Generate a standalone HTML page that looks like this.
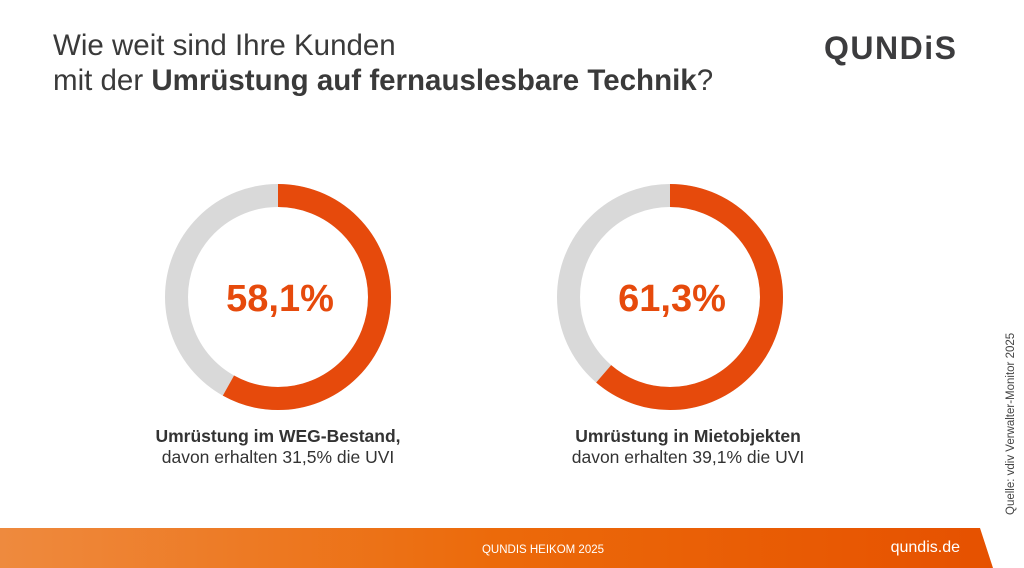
<!DOCTYPE html>
<html><head><meta charset="utf-8"><style>
body{margin:0;width:1024px;height:568px;overflow:hidden;background:#fff;font-family:"Liberation Sans",sans-serif;position:relative}
.t{position:absolute;left:53px;font-size:29.5px;color:#3a3a3a;line-height:34px}
.lbl{position:absolute;text-align:center;font-size:17.5px;color:#333;line-height:21px}
</style></head><body>
<div class="t" style="top:29px">Wie weit sind Ihre Kunden</div>
<div class="t" style="top:64px">mit der <b>Umrüstung auf fernauslesbare Technik</b>?</div>
<div style="position:absolute;left:824px;top:30px;font-size:32px;font-weight:bold;color:#3c3c3e;letter-spacing:1.5px">QUNDiS</div>
<svg width="1024" height="568" style="position:absolute;left:0;top:0">
<defs><linearGradient id="g" x1="0" x2="1"><stop offset="0" stop-color="#ee8a3e"/><stop offset="0.5" stop-color="#ec6a0a"/><stop offset="1" stop-color="#e65100"/></linearGradient></defs>
<circle cx="278" cy="297" r="101.5" fill="none" stroke="#d9d9d9" stroke-width="23"/>
<circle cx="278" cy="297" r="101.5" fill="none" stroke="#e64a0c" stroke-width="23" stroke-dasharray="370.5 1000" transform="rotate(-90 278 297)"/>
<circle cx="670" cy="297" r="101.5" fill="none" stroke="#d9d9d9" stroke-width="23"/>
<circle cx="670" cy="297" r="101.5" fill="none" stroke="#e64a0c" stroke-width="23" stroke-dasharray="391 1000" transform="rotate(-90 670 297)"/>
<text x="280" y="311" text-anchor="middle" font-size="38" font-weight="bold" fill="#e64a0c" font-family="Liberation Sans">58,1%</text>
<text x="672" y="311" text-anchor="middle" font-size="38" font-weight="bold" fill="#e64a0c" font-family="Liberation Sans">61,3%</text>
<polygon points="0,528 980,528 993,568 0,568" fill="url(#g)"/>
<text x="543" y="553" text-anchor="middle" font-size="11.5" fill="#fff" font-family="Liberation Sans">QUNDIS HEIKOM 2025</text>
<text x="960" y="552" text-anchor="end" font-size="16" fill="#fff" font-family="Liberation Sans">qundis.de</text>
<text transform="translate(1014 515) rotate(-90)" font-size="11.5" fill="#444" font-family="Liberation Sans">Quelle: vdiv Verwalter-Monitor 2025</text>
</svg>
<div class="lbl" style="left:128px;width:300px;top:426px"><b>Umrüstung im WEG-Bestand,</b><br>davon erhalten 31,5% die UVI</div>
<div class="lbl" style="left:538px;width:300px;top:426px"><b>Umrüstung in Mietobjekten</b><br>davon erhalten 39,1% die UVI</div>
</body></html>
